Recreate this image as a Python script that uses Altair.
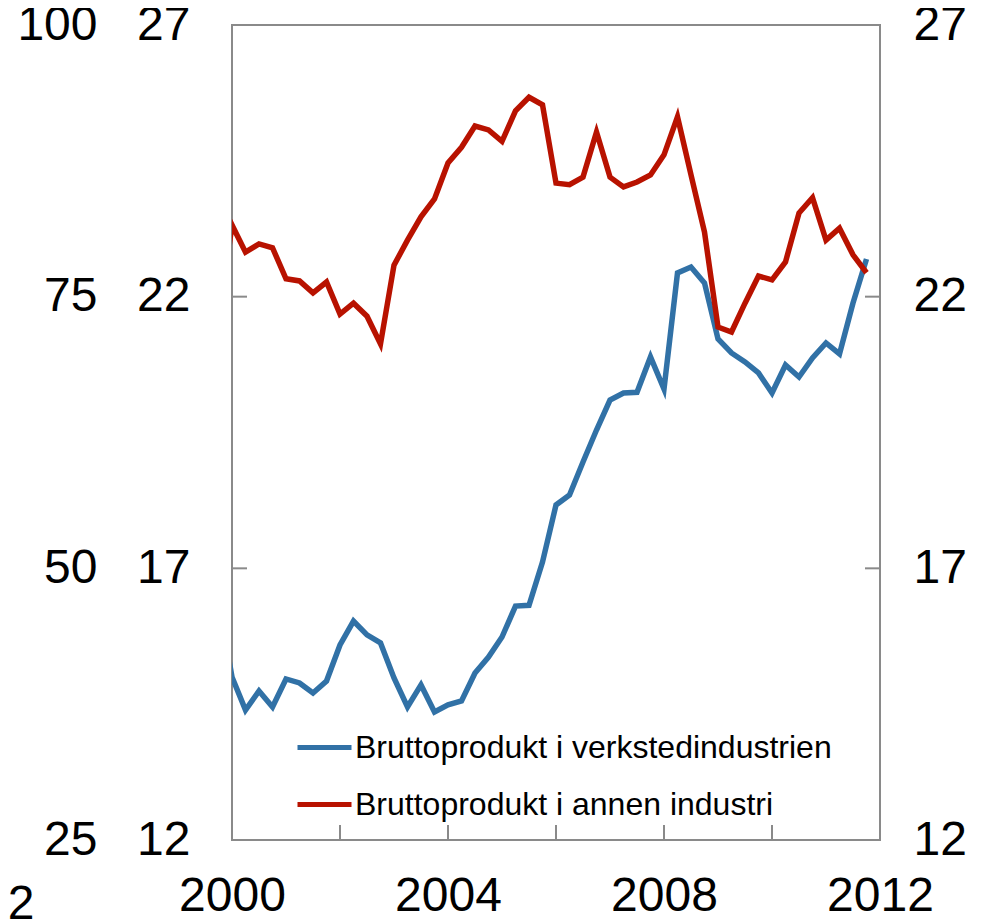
import altair as alt
import pandas as pd

# Quarterly observations, 1999Q4 .. 2011Q4 (first point lies left of the clipped frame)
QUARTERS = [str(p) for p in pd.period_range("1999Q4", "2011Q4", freq="Q")]

SERIES_NAMES = ["Bruttoprodukt i verkstedindustrien", "Bruttoprodukt i annen industri"]
SERIES_COLORS = ["#3171a6", "#b81200"]

# Left outer scale (25-100)
BLUE = [47.0,
        40.0, 36.96, 38.71, 37.24, 39.82, 39.45, 38.53, 39.63,
        42.95, 45.15, 43.87, 43.13, 39.91, 37.24, 39.27, 36.78,
        37.43, 37.79, 40.37, 41.84, 43.68, 46.53, 46.6, 50.58,
        55.83, 56.75, 59.79, 62.73, 65.49, 66.14, 66.2, 69.45,
        66.50, 77.18, 77.73, 76.26, 71.11, 69.82, 68.99, 67.98,
        66.14, 68.71, 67.61, 69.36, 70.74, 69.73, 74.42, 78.47]

# Left inner / right scale (12-27)
RED = [21.5,
       23.32, 22.82, 22.97, 22.90, 22.33, 22.29, 22.07, 22.27,
       21.68, 21.88, 21.64, 21.13, 22.58, 23.04, 23.47, 23.80,
       24.46, 24.75, 25.14, 25.07, 24.86, 25.42, 25.67, 25.53,
       24.09, 24.06, 24.20, 25.03, 24.20, 24.02, 24.11, 24.24,
       24.61, 25.31, 24.24, 23.19, 21.44, 21.35, 21.88, 22.38,
       22.31, 22.64, 23.54, 23.82, 23.04, 23.26, 22.77, 22.44]

X_LABELS = [2000, 2004, 2008, 2012]
X_MINOR_TICKS = [2002, 2004, 2006, 2008, 2010]
LEFT_OUTER_LABELS = [25, 50, 75, 100]
RIGHT_LABELS = [12, 17, 22, 27]
INNER_TICKS = [17, 22]


def qtime(q):
    p = pd.Period(q, freq="Q")
    return p.year + (p.quarter - 1) / 4.0


df_blue = pd.DataFrame({"t": [qtime(q) for q in QUARTERS], "v": BLUE, "series": SERIES_NAMES[0]})
df_red = pd.DataFrame({"t": [qtime(q) for q in QUARTERS], "v": RED, "series": SERIES_NAMES[1]})
df_ticks_y = pd.DataFrame({"v": INNER_TICKS})
df_ticks_x = pd.DataFrame({"t": X_MINOR_TICKS})
df_stray = pd.DataFrame({"s": ["2"]})

FONT = "Liberation Sans"
GRAY = "#8a8a8a"
W, H = 648, 815

x_enc = alt.X(
    "t:Q",
    scale=alt.Scale(domain=[2000, 2012], nice=False, zero=False),
    axis=alt.Axis(values=X_LABELS, format="d", ticks=False, tickSize=0, domain=False,
                  grid=False, labelPadding=32, title=None, labelFlush=False),
)

color_enc = alt.Color(
    "series:N",
    scale=alt.Scale(domain=SERIES_NAMES, range=SERIES_COLORS),
    legend=alt.Legend(orient="none", legendX=63, legendY=693, title=None,
                      symbolType="stroke", symbolSize=2916, symbolStrokeWidth=5,
                      labelFontSize=32, labelFont=FONT, labelColor="black",
                      labelOffset=1, rowPadding=11, padding=0, labelLimit=700),
)

blue = alt.Chart(df_blue).mark_line(clip=True, strokeWidth=5.5).encode(
    x=x_enc,
    y=alt.Y("v:Q", scale=alt.Scale(domain=[25, 100], nice=False, zero=False),
            axis=alt.Axis(orient="left", values=LEFT_OUTER_LABELS, ticks=False, tickSize=0,
                          domain=False, grid=False, labelPadding=135, title=None)),
    color=color_enc,
)

red = alt.Chart(df_red).mark_line(clip=True, strokeWidth=5.5).encode(
    x=x_enc,
    y=alt.Y("v:Q", scale=alt.Scale(domain=[12, 27], nice=False, zero=False),
            axis=alt.Axis(orient="left", values=RIGHT_LABELS, ticks=False, tickSize=0,
                          domain=False, grid=False, labelPadding=42, title=None)),
    color=color_enc,
)

right_ticks = alt.Chart(df_ticks_y).mark_rule(color=GRAY, strokeWidth=2).encode(
    x=alt.value(W - 15), x2=alt.value(W),
    y=alt.Y("v:Q", scale=alt.Scale(domain=[12, 27], nice=False, zero=False),
            axis=alt.Axis(orient="right", values=RIGHT_LABELS, ticks=False, tickSize=0,
                          domain=False, grid=False, labelPadding=33, title=None)),
)

left_ticks = alt.Chart(df_ticks_y).mark_rule(color=GRAY, strokeWidth=2).encode(
    x=alt.value(0), x2=alt.value(15),
    y=alt.Y("v:Q", scale=alt.Scale(domain=[12, 27], nice=False, zero=False), axis=None),
)

bottom_ticks = alt.Chart(df_ticks_x).mark_rule(color=GRAY, strokeWidth=2).encode(
    x=x_enc, y=alt.value(H - 15), y2=alt.value(H),
)

stray = alt.Chart(df_stray).mark_text(font=FONT, fontSize=48, color="black",
                                      align="center", baseline="middle").encode(
    text="s:N", x=alt.value(-211), y=alt.value(880),
)

chart = alt.layer(blue, red, right_ticks, left_ticks, bottom_ticks, stray).resolve_scale(
    y="independent"
).properties(
    width=W, height=H, autosize="none",
    padding={"left": 224, "top": 17, "right": 100, "bottom": 80},
).configure_view(
    stroke=GRAY, strokeWidth=2
).configure_axis(
    labelFont=FONT, labelColor="black", labelFontSize=48
)

chart.save("out.html", embed_options={"renderer": "svg", "actions": False})
